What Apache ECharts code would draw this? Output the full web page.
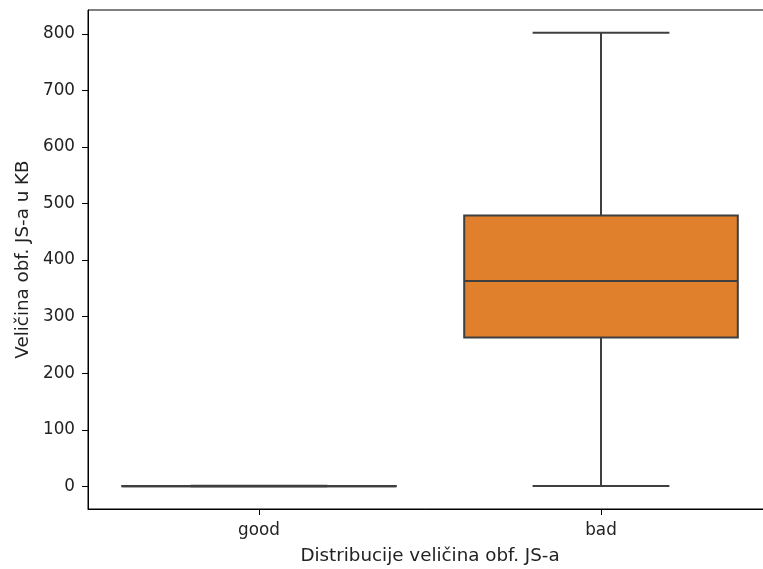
<!DOCTYPE html>
<html>
<head>
<meta charset="utf-8">
<script src="https://cdn.jsdelivr.net/npm/echarts@6/dist/echarts.min.js"></script>
<style>
  html, body { margin: 0; padding: 0; background: #fff; }
  #chart { width: 763px; height: 569px; }
</style>
</head>
<body>
<div id="chart"></div>
<script>
// Size of obfuscated JS files (KB) per class
const categories = ['good', 'bad'];
const lowWhisker = [0, 0.5];
const q1 = [0.1, 263];
const median = [0.2, 363];
const q3 = [0.5, 479];
const highWhisker = [1, 802];
const yTicks = [0, 100, 200, 300, 400, 500, 600, 700, 800];

const boxColors = ['#3a75af', '#e0802c'];
const lineColor = '#3f3f3f';

const seriesData = categories.map((c, i) => [i, lowWhisker[i], q1[i], median[i], q3[i], highWhisker[i]]);

function renderBox(params, api) {
  const idx = api.value(0);
  const band = api.size([1, 0])[0];
  const boxW = band * 0.8;
  const capW = boxW * 0.5;
  const pLow = api.coord([idx, api.value(1)]);
  const pQ1 = api.coord([idx, api.value(2)]);
  const pMed = api.coord([idx, api.value(3)]);
  const pQ3 = api.coord([idx, api.value(4)]);
  const pHigh = api.coord([idx, api.value(5)]);
  const cx = pMed[0];
  const ls = { stroke: lineColor, lineWidth: 2 };
  return {
    type: 'group',
    children: [
      { type: 'line', shape: { x1: cx, y1: pQ1[1], x2: cx, y2: pLow[1] }, style: ls },
      { type: 'line', shape: { x1: cx, y1: pQ3[1], x2: cx, y2: pHigh[1] }, style: ls },
      { type: 'line', shape: { x1: cx - capW / 2, y1: pLow[1], x2: cx + capW / 2, y2: pLow[1] }, style: ls },
      { type: 'line', shape: { x1: cx - capW / 2, y1: pHigh[1], x2: cx + capW / 2, y2: pHigh[1] }, style: ls },
      { type: 'rect', shape: { x: cx - boxW / 2, y: pQ3[1], width: boxW, height: pQ1[1] - pQ3[1] },
        style: { fill: boxColors[idx], stroke: lineColor, lineWidth: 2 } },
      { type: 'line', shape: { x1: cx - boxW / 2, y1: pMed[1], x2: cx + boxW / 2, y2: pMed[1] }, style: ls }
    ]
  };
}

const chart = echarts.init(document.getElementById('chart'), null, { renderer: 'canvas' });
const font = 'DejaVu Sans';
chart.setOption({
  animation: false,
  backgroundColor: '#fff',
  grid: {
    left: 88, top: 10, width: 684, height: 499,
    outerBoundsMode: 'none',
    containLabel: false,
    show: true, borderColor: '#000', borderWidth: 1, backgroundColor: 'transparent'
  },
  xAxis: {
    type: 'category',
    data: categories,
    boundaryGap: true,
    name: 'Distribucije veličina obf. JS-a',
    nameLocation: 'middle',
    nameGap: 38,
    nameTextStyle: { fontFamily: font, fontSize: 18.3, color: '#222' },
    axisLine: { show: true, onZero: false, lineStyle: { color: '#000', width: 1 } },
    axisTick: { show: true, alignWithLabel: true, length: 6, lineStyle: { color: '#000' } },
    axisLabel: { fontFamily: font, fontSize: 16.8, color: '#222', margin: 13 },
    splitLine: { show: false }
  },
  yAxis: {
    type: 'value',
    min: -40.1,
    max: 842.1,
    interval: 100,
    name: 'Veličina obf. JS-a u KB',
    nameLocation: 'middle',
    nameGap: 55,
    nameRotate: 90,
    nameTextStyle: { fontFamily: font, fontSize: 18.3, color: '#222' },
    axisLine: { show: true, onZero: false, lineStyle: { color: '#000', width: 1 } },
    axisTick: { show: true, length: 6, lineStyle: { color: '#000' }, customValues: yTicks },
    axisLabel: { fontFamily: font, fontSize: 16.8, color: '#222', margin: 13, customValues: yTicks },
    splitLine: { show: false }
  },
  series: [{
    type: 'custom',
    renderItem: renderBox,
    data: seriesData,
    encode: { x: 0, y: [1, 2, 3, 4, 5] }
  }]
});
</script>
</body>
</html>
